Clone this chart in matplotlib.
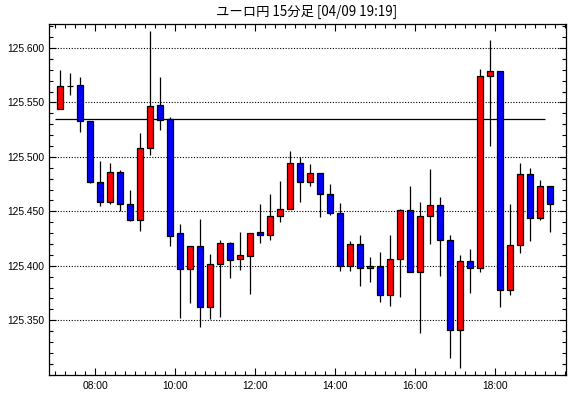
import matplotlib
matplotlib.use("Agg")
import matplotlib.pyplot as plt
from matplotlib.ticker import MultipleLocator, FixedLocator
import numpy as np

# 15-minute candles, 07:00 - 19:15 (hours as float)
start_hour = 7.0
opens = [125.544, 125.565, 125.566, 125.533, 125.477, 125.459, 125.486, 125.457, 125.442, 125.508,
         125.548, 125.535, 125.430, 125.397, 125.418, 125.362, 125.402, 125.421, 125.406, 125.409,
         125.431, 125.428, 125.446, 125.452, 125.494, 125.477, 125.485, 125.466, 125.448, 125.400,
         125.420, 125.398, 125.400, 125.373, 125.406, 125.451, 125.394, 125.446, 125.456, 125.424,
         125.341, 125.404, 125.398, 125.574, 125.579, 125.378, 125.419, 125.484, 125.444, 125.473]
highs = [125.580, 125.577, 125.573, 125.533, 125.496, 125.494, 125.488, 125.470, 125.522, 125.616,
         125.573, 125.537, 125.438, 125.418, 125.443, 125.411, 125.424, 125.422, 125.431, 125.430,
         125.457, 125.466, 125.478, 125.505, 125.500, 125.493, 125.485, 125.475, 125.458, 125.423,
         125.428, 125.408, 125.413, 125.428, 125.452, 125.473, 125.459, 125.489, 125.463, 125.428,
         125.410, 125.415, 125.581, 125.607, 125.579, 125.457, 125.494, 125.490, 125.479, 125.473]
lows = [125.544, 125.557, 125.523, 125.476, 125.455, 125.457, 125.450, 125.441, 125.432, 125.502,
        125.525, 125.418, 125.352, 125.366, 125.344, 125.351, 125.353, 125.389, 125.396, 125.374,
        125.421, 125.424, 125.440, 125.452, 125.459, 125.473, 125.445, 125.447, 125.395, 125.395,
        125.381, 125.385, 125.367, 125.363, 125.371, 125.394, 125.338, 125.420, 125.391, 125.315,
        125.306, 125.375, 125.394, 125.510, 125.362, 125.373, 125.412, 125.423, 125.442, 125.431]
closes = [125.565, 125.565, 125.533, 125.477, 125.459, 125.486, 125.457, 125.442, 125.508, 125.547,
          125.534, 125.427, 125.397, 125.418, 125.362, 125.402, 125.421, 125.405, 125.410, 125.430,
          125.428, 125.446, 125.452, 125.494, 125.477, 125.485, 125.466, 125.448, 125.400, 125.420,
          125.398, 125.400, 125.373, 125.406, 125.451, 125.394, 125.446, 125.456, 125.424, 125.341,
          125.404, 125.398, 125.574, 125.579, 125.378, 125.419, 125.484, 125.444, 125.473, 125.457]
ref_level = 125.535
ref_span = (7.0, 19.25)

x_ticks = [8, 10, 12, 14, 16, 18]
x_labels = ["08:00", "10:00", "12:00", "14:00", "16:00", "18:00"]
y_ticks = [125.35, 125.40, 125.45, 125.50, 125.55, 125.60]
title = "ユーロ円 15分足 [04/09 19:19]"

o = np.array(opens)
h = np.array(highs)
l = np.array(lows)
c = np.array(closes)
x = start_hour + 0.25 * np.arange(len(o)) + 0.125

colors = np.where(c > o, "#ff0000", np.where(c < o, "#0000ff", "black"))

fig = plt.figure(figsize=(5.7, 3.98), dpi=100)
ax = fig.add_axes([0.0865, 0.058, 0.906, 0.881])

ax.vlines(x, l, h, color="black", linewidth=0.9, zorder=2)
ax.bar(x, np.abs(c - o), bottom=np.minimum(o, c), width=0.15,
       color=colors, edgecolor="black", linewidth=0.9, zorder=3)
ax.hlines(ref_level, ref_span[0], ref_span[1], color="black", linewidth=0.9, zorder=1)

ax.set_xlim(6.85, 19.76)
ax.set_ylim(125.2997, 125.6218)

ax.xaxis.set_major_locator(FixedLocator(x_ticks))
ax.set_xticks(x_ticks, x_labels)
ax.xaxis.set_minor_locator(MultipleLocator(0.25))
ax.set_yticks(y_ticks, ["%.3f" % v for v in y_ticks])
ax.yaxis.set_minor_locator(MultipleLocator(0.01))

ax.grid(axis="y", which="major", color="black", linestyle=(0, (1, 1.5)), linewidth=0.8)
ax.set_axisbelow(True)

ax.tick_params(which="both", direction="in", top=True, right=True, colors="black",
               labelsize=7.4, width=0.8)
ax.tick_params(which="major", length=5)
ax.tick_params(which="minor", length=3)
for lab in ax.get_xticklabels() + ax.get_yticklabels():
    lab.set_family("Liberation Sans")
ax.tick_params(axis="x", pad=4.5)
ax.tick_params(axis="y", pad=3.5)

for s in ax.spines.values():
    s.set_linewidth(0.9)
    s.set_color("black")

fig.text(0.537, 0.97, title, ha="center", va="center", fontsize=9.6,
         family=["Noto Sans CJK JP", "DejaVu Sans"])

fig.savefig("out.png", dpi=100)
